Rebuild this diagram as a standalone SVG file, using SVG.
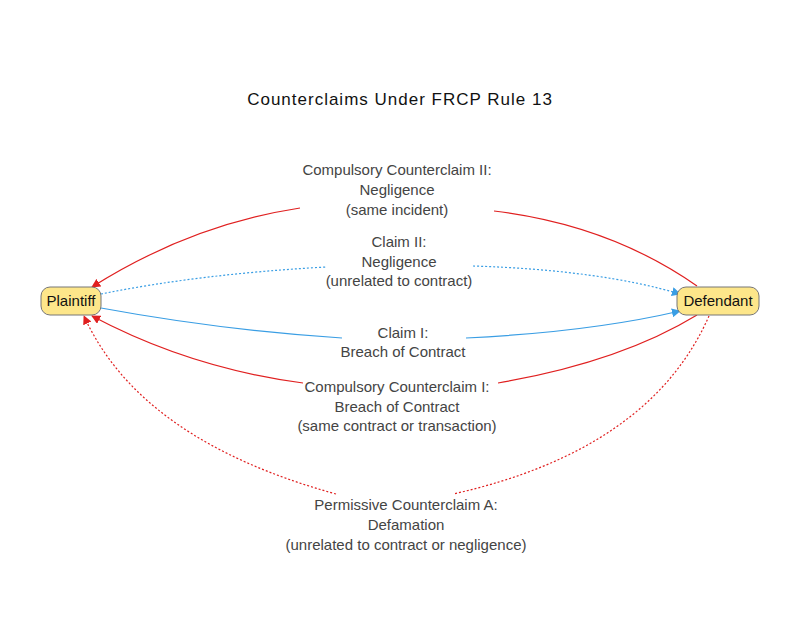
<svg xmlns="http://www.w3.org/2000/svg" width="800" height="618" viewBox="0 0 800 618">
<style>
.lbl{font-family:"Liberation Sans",Arial,sans-serif;font-size:15px;fill:#444;text-anchor:middle}
.title{font-family:"Liberation Sans",Arial,sans-serif;font-size:17px;fill:#111;text-anchor:middle;letter-spacing:1px}
.node rect{fill:#fde68a;stroke:#777;stroke-width:1}
.node text{font-family:"Liberation Sans",Arial,sans-serif;font-size:15px;fill:#111;text-anchor:middle}
.red{fill:none;stroke:#e02020;stroke-width:1.2}
.blue{fill:none;stroke:#3a9ee4;stroke-width:1.2}
.dot{stroke-dasharray:2 2}
</style>
<defs>
<marker id="ar" viewBox="0 0 10 10" refX="9" refY="5" markerWidth="9" markerHeight="9" markerUnits="userSpaceOnUse" orient="auto"><path d="M0,0 L10,5 L0,10 z" fill="#e02020"/></marker>
<marker id="ab" viewBox="0 0 10 10" refX="9" refY="5" markerWidth="9" markerHeight="9" markerUnits="userSpaceOnUse" orient="auto"><path d="M0,0 L10,5 L0,10 z" fill="#3a9ee4"/></marker>
</defs>
<rect width="800" height="618" fill="#fff"/>
<text class="title" x="400" y="105">Counterclaims Under FRCP Rule 13</text>
<g id="connectors">
<path class="red" d="M697,286 Q610,225 494,211"/>
<path class="red" d="M300,208 Q190,225 92,287" marker-end="url(#ar)"/>
<path class="blue dot" d="M101,294 Q200,274 326,267"/>
<path class="blue dot" d="M473,266 Q600,270 680,294" marker-end="url(#ab)"/>
<path class="blue" d="M101,308 Q220,330 342,338"/>
<path class="blue" d="M466,338 Q590,332 680,311" marker-end="url(#ab)"/>
<path class="red" d="M697,315 Q620,362 498,383"/>
<path class="red" d="M303,383 Q190,368 92,316" marker-end="url(#ar)"/>
<path class="red dot" d="M709,316 Q650,450 453,494"/>
<path class="red dot" d="M336,494 Q140,440 84,316" marker-end="url(#ar)"/>
</g>
<g id="lbl-ccii"><text class="lbl" x="397" y="175">Compulsory Counterclaim II:</text><text class="lbl" x="397" y="195">Negligence</text><text class="lbl" x="397" y="215">(same incident)</text></g>
<g id="lbl-cii"><text class="lbl" x="399" y="247">Claim II:</text><text class="lbl" x="399" y="267">Negligence</text><text class="lbl" x="399" y="286">(unrelated to contract)</text></g>
<g id="lbl-ci"><text class="lbl" x="403" y="338">Claim I:</text><text class="lbl" x="403" y="357">Breach of Contract</text></g>
<g id="lbl-cci"><text class="lbl" x="397" y="392">Compulsory Counterclaim I:</text><text class="lbl" x="397" y="412">Breach of Contract</text><text class="lbl" x="397" y="431">(same contract or transaction)</text></g>
<g id="lbl-pca"><text class="lbl" x="406" y="510">Permissive Counterclaim A:</text><text class="lbl" x="406" y="530">Defamation</text><text class="lbl" x="406" y="550">(unrelated to contract or negligence)</text></g>
<g id="plaintiff" class="node"><rect x="41" y="287" width="60" height="28" rx="9"/><text x="71" y="306">Plaintiff</text></g>
<g id="defendant" class="node"><rect x="677" y="287" width="82" height="28" rx="9"/><text x="718" y="306">Defendant</text></g>
</svg>
